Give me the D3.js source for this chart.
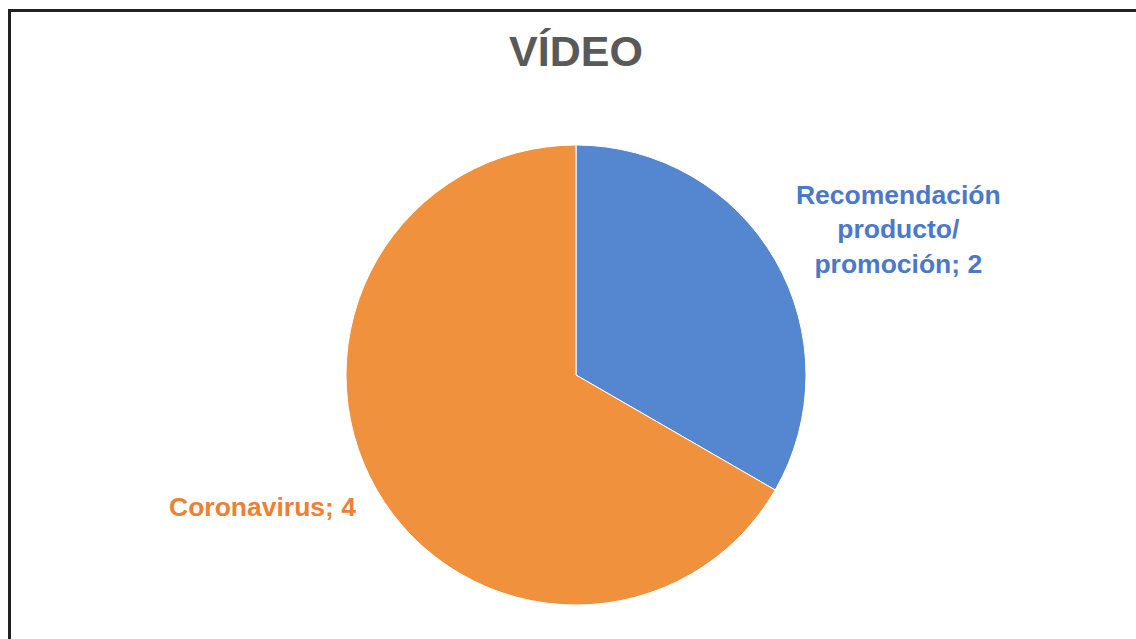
<!DOCTYPE html>
<html>
<head>
<meta charset="utf-8">
<script src="https://cdn.jsdelivr.net/npm/d3@7"></script>
<style>
  html, body { margin: 0; padding: 0; background: #fff; }
  svg { display: block; }
  text { font-family: "Liberation Sans", Arial, sans-serif; font-weight: bold; }
</style>
</head>
<body>
<svg id="chart" width="1136" height="639"></svg>
<script>
const categories = ["Recomendación producto/ promoción", "Coronavirus"];
const labelLines = [["Recomendación", "producto/", "promoción; 2"], ["Coronavirus; 4"]];
const values = [2, 4];
const sliceColors = ["#5586d0", "#f0913e"];
const textColors = ["#4b78c9", "#ee8034"];

const width = 1136, height = 639;
const cx = 576, cy = 375, radius = 230;

const svg = d3.select("#chart");

// frame (top and left edges visible, rest is cropped off)
svg.append("path")
    .attr("d", `M9.5,${height} V10.5 H${width}`)
    .attr("fill", "none")
    .attr("stroke", "#222")
    .attr("stroke-width", 3);

svg.append("text")
    .attr("x", cx)
    .attr("y", 66)
    .attr("text-anchor", "middle")
    .attr("fill", "#595959")
    .style("font-size", "43px")
    .text("VÍDEO");

const data = categories.map((c, i) => ({ name: c, value: values[i], lines: labelLines[i], i }));

const pie = d3.pie().value(d => d.value).sort(null);
const arc = d3.arc().innerRadius(0).outerRadius(radius);
const labelArc = d3.arc().innerRadius(radius + 24).outerRadius(radius + 24);

const g = svg.append("g").attr("transform", `translate(${cx},${cy})`);

const arcs = pie(data);

g.selectAll("path.slice")
    .data(arcs)
    .join("path")
    .attr("class", "slice")
    .attr("d", arc)
    .attr("fill", d => sliceColors[d.data.i])
    .attr("stroke", "#fff")
    .attr("stroke-width", 1);

const fontSize = 26.5, lineH = 34.5;

arcs.forEach(d => {
    const [px, py] = labelArc.centroid(d);
    const right = px > 0;
    const t = g.append("text")
        .attr("fill", textColors[d.data.i])
        .style("font-size", fontSize + "px");
    const spans = d.data.lines.map(l => t.append("tspan").text(l));
    const widths = spans.map(s => s.node().getComputedTextLength());
    const blockW = d3.max(widths);
    const n = d.data.lines.length;
    const top = py - (n - 1) * lineH / 2 + 14;
    const midX = right ? px + blockW / 2 : px - blockW / 2;
    spans.forEach((s, k) => {
        s.attr("x", midX).attr("y", top + k * lineH - (right ? 24 : 0)).attr("text-anchor", "middle");
    });
});
</script>
</body>
</html>
